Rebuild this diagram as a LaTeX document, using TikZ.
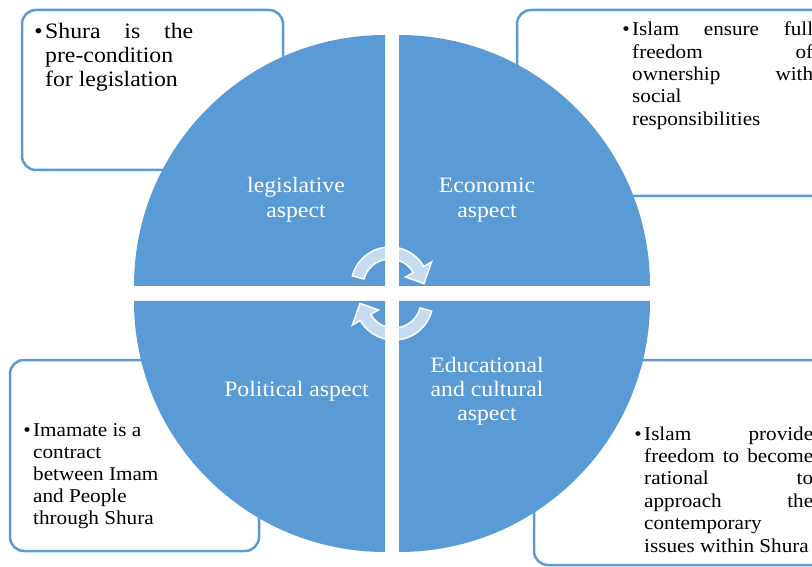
\documentclass[tikz,border=0pt]{standalone}
\usepackage{fontspec}
\setmainfont{Liberation Serif}[FakeStretch=1.08]
\definecolor{qblue}{HTML}{5B9BD5}
\tikzset{
  quad/.style={fill=qblue, draw=none},
  infobox/.style={draw=qblue, line width=2.5pt, fill=white, rounded corners=14pt},
  qlabel/.style={text=white, align=center, inner sep=0pt},
  cyc/.style={fill=white, fill opacity=0.65, draw=white, draw opacity=1, line width=1.5pt},
  btext/.style={anchor=base west, inner sep=0pt},
}
\newcommand\bul{\leavevmode\llap{\textbullet\hspace{2.5pt}}}
\newcommand\cycarrow{%
  (165:39pt) arc[start angle=165, end angle=30, radius=39pt]
  -- (30:48pt) -- (4:34pt) -- (30:18pt) -- (30:27pt)
  arc[start angle=30, end angle=165, radius=27pt] -- cycle}
\begin{document}
\begin{tikzpicture}[x=1pt,y=1pt]
\fill[white] (0,0) rectangle (812,566);
\useasboundingbox (0,0) rectangle (812,566);

% info boxes
\draw[infobox] (22,396) rectangle (283,556);
\draw[infobox] (517,370) rectangle (850,556);
\draw[infobox] (10,15) rectangle (259,206);
\draw[infobox] (534,1) rectangle (850,206);

% quadrants
\fill[quad] (385,280) -- (385,531) arc[start angle=90, end angle=180, radius=251] -- cycle;
\fill[quad] (399,280) -- (650,280) arc[start angle=0, end angle=90, radius=251] -- cycle;
\fill[quad] (385,265) -- (134,265) arc[start angle=180, end angle=270, radius=251] -- cycle;
\fill[quad] (399,265) -- (399,14) arc[start angle=270, end angle=360, radius=251] -- cycle;

% quadrant labels
\node[qlabel, font=\fontsize{22}{25}\selectfont] (leg) at (296,366) {legislative\\aspect};
\node[qlabel, font=\fontsize{22}{25}\selectfont] (eco) at (487,366) {Economic\\aspect};
\node[qlabel, font=\fontsize{22}{25}\selectfont] (pol) at (296.5,175) {Political aspect};
\node[qlabel, font=\fontsize{22}{24}\selectfont] (edu) at (487,175) {Educational\\and cultural\\aspect};

% cycle arrows
\begin{scope}[shift={(390,280)}]
  \path[cyc] \cycarrow;
\end{scope}
\begin{scope}[shift={(394,265)}, rotate=180]
  \path[cyc] \cycarrow;
\end{scope}

% box texts
\node[btext] (tltext) at (45,527) {\parbox[t]{150pt}{\fontsize{22}{24}\selectfont
  \bul\makebox[148pt][s]{Shura is the}\\pre-condition\\for legislation}};
\node[btext] (trtext) at (632,530) {\parbox[t]{181pt}{\fontsize{19.6}{22.3}\selectfont
  \bul\makebox[181pt][s]{Islam ensure full}\\\makebox[181pt][s]{freedom of}\\\makebox[181pt][s]{ownership with}\\social\\responsibilities}};
\node[btext] (bltext) at (33,130) {\parbox[t]{150pt}{\fontsize{19.6}{22}\selectfont
  \bul Imamate is a\\contract\\between Imam\\and People\\through Shura}};
\node[btext] (brtext) at (644,126) {\parbox[t]{169pt}{\fontsize{19.6}{22.4}\selectfont
  \bul\makebox[169pt][s]{Islam provide}\\\makebox[169pt][s]{freedom to become}\\\makebox[169pt][s]{rational to}\\\makebox[169pt][s]{approach the}\\contemporary\\issues within Shura}};
\end{tikzpicture}
\end{document}
